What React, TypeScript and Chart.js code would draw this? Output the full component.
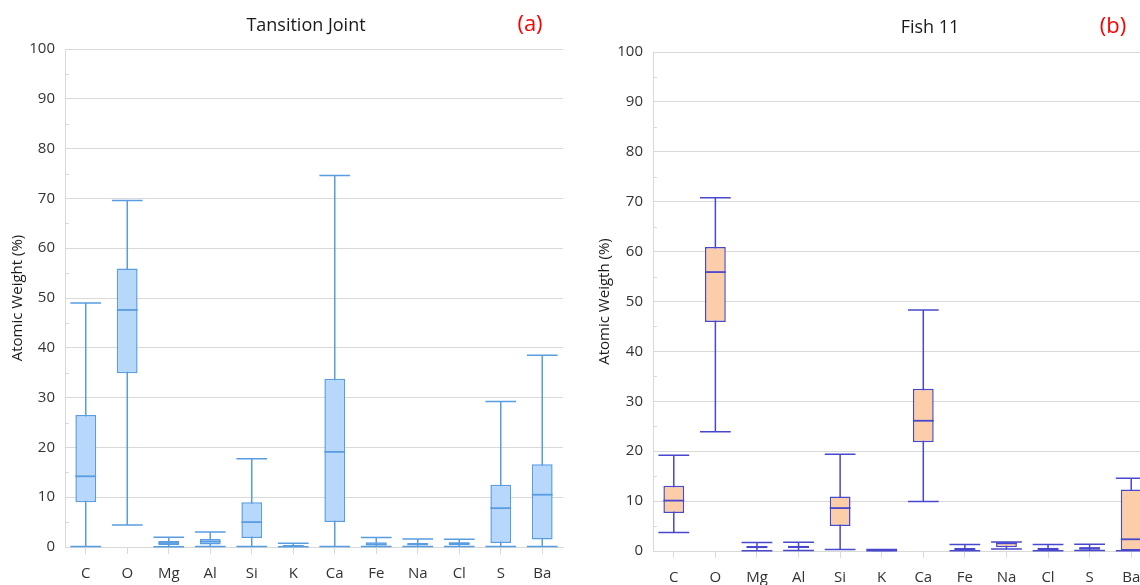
import React, { useEffect, useRef } from "react";
import { Chart, registerables } from "chart.js";

Chart.register(...registerables);

const categories = ["C", "O", "Mg", "Al", "Si", "K", "Ca", "Fe", "Na", "Cl", "S", "Ba"];

// (a) Tansition Joint
const tjMin = [0.1, 4.4, 0.05, 0.1, 0.1, 0.05, 0.1, 0.1, 0.1, 0.1, 0.1, 0.1];
const tjQ1 = [9.0, 34.9, 0.4, 0.5, 1.8, 0.07, 5.0, 0.3, 0.35, 0.4, 0.8, 1.5];
const tjMedian = [14.2, 47.6, 0.8, 1.1, 5.0, 0.2, 19.1, 0.55, 0.55, 0.7, 7.8, 10.5];
const tjQ3 = [26.5, 55.9, 1.2, 1.6, 9.0, 0.4, 33.8, 0.95, 0.8, 0.95, 12.5, 16.6];
const tjMax = [49.0, 69.6, 1.95, 3.0, 17.7, 0.74, 74.6, 1.9, 1.6, 1.55, 29.2, 38.5];

// (b) Fish 11
const fMin = [3.7, 23.9, 0.05, 0.1, 0.3, 0.05, 9.9, 0.05, 0.4, 0.05, 0.1, 0.05];
const fQ1 = [7.6, 45.9, 0.55, 0.6, 5.0, 0.08, 21.8, 0.2, 0.75, 0.2, 0.25, 0.1];
const fMedian = [10.1, 55.9, 0.8, 0.8, 8.6, 0.15, 26.1, 0.35, 1.55, 0.4, 0.55, 2.35];
const fQ3 = [13.1, 60.9, 1.0, 1.05, 10.9, 0.2, 32.5, 0.6, 1.7, 0.65, 0.75, 12.3];
const fMax = [19.2, 70.8, 1.7, 1.75, 19.4, 0.3, 48.3, 1.3, 1.8, 1.3, 1.35, 14.6];

const yMin = 0;
const yMax = 100;
const yStep = 10;
const yMinorTicks = [5, 15, 25, 35, 45, 55, 65, 75, 85, 95];

const FONT = "'Open Sans', sans-serif";
const GRID = "#d9d9d9";

type BoxCfg = {
  title: string;
  tag: string;
  yTitle: string;
  min: number[];
  q1: number[];
  median: number[];
  q3: number[];
  max: number[];
  fill: string;
  stroke: string;
  canvasLeft: number;
  canvasWidth: number;
  axisWidth: number;
  xAxisHeight: number;
  padTop: number;
  padRight: number;
  yTitlePad: number;
  titleX: number;
  tagX: number;
  titleY: number;
};

function BoxChart({ cfg }: { cfg: BoxCfg }) {
  const ref = useRef<HTMLCanvasElement | null>(null);
  useEffect(() => {
    if (!ref.current) return;
    const boxPlugin = {
      id: "boxExtras",
      beforeDatasetsDraw(chart: any) {
        const { ctx, scales } = chart;
        const x = scales.x;
        const y = scales.y;
        const capHalf = (x.width / categories.length) * 0.37;
        ctx.save();
        ctx.strokeStyle = cfg.stroke;
        ctx.lineWidth = 1.5;
        categories.forEach((_, i) => {
          const cx = x.getPixelForValue(i);
          const yLo = y.getPixelForValue(cfg.min[i]);
          const yHi = y.getPixelForValue(cfg.max[i]);
          ctx.beginPath();
          ctx.moveTo(cx, yLo);
          ctx.lineTo(cx, yHi);
          ctx.moveTo(cx - capHalf, yLo);
          ctx.lineTo(cx + capHalf, yLo);
          ctx.moveTo(cx - capHalf, yHi);
          ctx.lineTo(cx + capHalf, yHi);
          ctx.stroke();
        });
        ctx.restore();
      },
      afterDatasetsDraw(chart: any) {
        const { ctx, scales } = chart;
        const y = scales.y;
        const meta = chart.getDatasetMeta(0);
        ctx.save();
        ctx.strokeStyle = cfg.stroke;
        ctx.lineWidth = 1.8;
        meta.data.forEach((bar: any, i: number) => {
          const ym = y.getPixelForValue(cfg.median[i]);
          ctx.beginPath();
          ctx.moveTo(bar.x - bar.width / 2, ym);
          ctx.lineTo(bar.x + bar.width / 2, ym);
          ctx.stroke();
        });
        ctx.strokeStyle = GRID;
        ctx.lineWidth = 1;
        const left = chart.chartArea.left;
        yMinorTicks.forEach((v) => {
          const yy = Math.round(y.getPixelForValue(v)) + 0.5;
          ctx.beginPath();
          ctx.moveTo(left, yy);
          ctx.lineTo(left + 4, yy);
          ctx.stroke();
        });
        ctx.restore();
      },
      afterDraw(chart: any) {
        const { ctx } = chart;
        ctx.save();
        ctx.textBaseline = "middle";
        ctx.textAlign = "center";
        ctx.fillStyle = "#1a1a1a";
        ctx.font = `18px ${FONT}`;
        ctx.fillText(cfg.title, cfg.titleX, cfg.titleY);
        ctx.fillStyle = "#ff0000";
        ctx.font = `22px ${FONT}`;
        ctx.fillText(cfg.tag, cfg.tagX, cfg.titleY - 1);
        ctx.restore();
      },
    };

    const chart = new Chart(ref.current, {
      type: "bar",
      data: {
        labels: categories,
        datasets: [
          {
            data: categories.map((_, i) => [cfg.q1[i], cfg.q3[i]]) as any,
            backgroundColor: cfg.fill,
            borderColor: cfg.stroke,
            borderWidth: 1.5,
            borderSkipped: false,
            barPercentage: 0.5,
            categoryPercentage: 1,
          },
        ],
      },
      options: {
        responsive: false,
        animation: false,
        layout: { padding: { top: cfg.padTop, right: cfg.padRight, left: 0, bottom: 0 } },
        plugins: {
          legend: { display: false },
          tooltip: { enabled: false },
          title: { display: false },
        },
        scales: {
          x: {
            type: "category",
            offset: true,
            grid: {
              offset: false,
              drawOnChartArea: false,
              drawTicks: true,
              tickLength: 7,
              color: GRID,
            },
            border: { display: true, color: GRID, width: 1 },
            ticks: {
              padding: 11,
              color: "#333333",
              font: { family: FONT, size: 15 },
              maxRotation: 0,
              autoSkip: false,
            },
            afterFit: (scale: any) => {
              scale.height = cfg.xAxisHeight;
            },
          },
          y: {
            min: yMin,
            max: yMax,
            ticks: {
              stepSize: yStep,
              padding: 10,
              color: "#333333",
              font: { family: FONT, size: 15 },
            },
            grid: { color: GRID, drawTicks: false, lineWidth: 1 },
            border: { display: true, color: GRID, width: 1 },
            title: {
              display: true,
              text: cfg.yTitle,
              color: "#1a1a1a",
              font: { family: FONT, size: 15 },
              padding: { top: cfg.yTitlePad, bottom: 0 },
            },
            afterFit: (scale: any) => {
              scale.width = cfg.axisWidth;
            },
          },
        },
      },
      plugins: [boxPlugin],
    });
    return () => chart.destroy();
  }, [cfg]);
  return (
    <canvas
      ref={ref}
      width={cfg.canvasWidth}
      height={585}
      style={{ position: "absolute", left: cfg.canvasLeft, top: 0 }}
    />
  );
}

const leftCfg: BoxCfg = {
  title: "Tansition Joint",
  tag: "(a)",
  yTitle: "Atomic Weight (%)",
  min: tjMin,
  q1: tjQ1,
  median: tjMedian,
  q3: tjQ3,
  max: tjMax,
  fill: "rgb(183, 216, 250)",
  stroke: "rgb(88, 157, 226)",
  canvasLeft: 0,
  canvasWidth: 590,
  axisWidth: 65,
  xAxisHeight: 38,
  padTop: 49,
  padRight: 27,
  yTitlePad: 9,
  titleX: 306,
  tagX: 530,
  titleY: 26,
};

const rightCfg: BoxCfg = {
  title: "Fish 11",
  tag: "(b)",
  yTitle: "Atomic Weigth (%)",
  min: fMin,
  q1: fQ1,
  median: fMedian,
  q3: fQ3,
  max: fMax,
  fill: "rgb(251, 205, 168)",
  stroke: "rgb(72, 72, 206)",
  canvasLeft: 590,
  canvasWidth: 570,
  axisWidth: 63,
  xAxisHeight: 34,
  padTop: 52,
  padRight: 8,
  yTitlePad: 6,
  titleX: 340,
  tagX: 523,
  titleY: 28,
};

export default function App() {
  return (
    <div
      style={{
        position: "absolute",
        left: 0,
        top: 0,
        width: 1140,
        height: 585,
        overflow: "hidden",
        background: "#fff",
      }}
    >
      <BoxChart cfg={leftCfg} />
      <BoxChart cfg={rightCfg} />
    </div>
  );
}
